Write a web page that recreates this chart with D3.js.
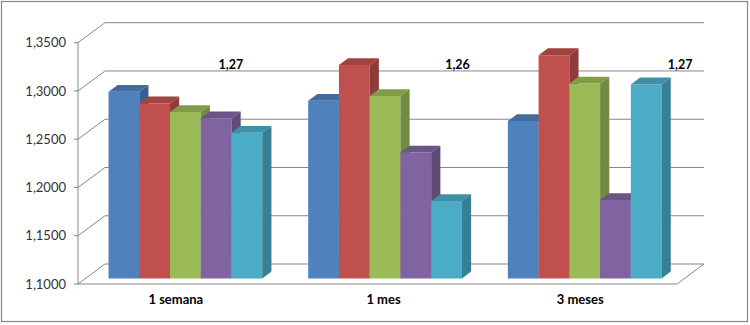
<!DOCTYPE html>
<html><head><meta charset="utf-8">
<script src="https://cdn.jsdelivr.net/npm/d3@7"></script>
<style>body{margin:0;background:#fff;}svg{display:block;font-family:Lato,"Open Sans",sans-serif;}</style>
</head><body>
<svg id="c" width="750" height="325"></svg>
<script>
const categories = ["1 semana", "1 mes", "3 meses"];
const seriesNames = ["S1", "S2", "S3", "S4", "S5"];
const seriesColors = ["#4F81BD", "#C0504D", "#9BBB59", "#8064A2", "#4BACC6"];
const values = [
  [1.2933, 1.2813, 1.2723, 1.2658, 1.2509],
  [1.2840, 1.3210, 1.2889, 1.2305, 1.1801],
  [1.2630, 1.3313, 1.3020, 1.1811, 1.3010]
];
const averageLabels = ["1,27", "1,26", "1,27"];
const yTicks = [1.10, 1.15, 1.20, 1.25, 1.30, 1.35];

const svg = d3.select("#c");
const DX = 27, DY = -20;      // oblique depth offset of the back wall
const F1 = 0.28, F2 = 0.62;   // bar depth (front / back fraction)
const left = 78, right = 677;

const y = d3.scaleLinear().domain([1.10, 1.35]).range([284, 42.7]);
const x0 = d3.scaleBand().domain(categories).range([left, right]).paddingInner(0.23).paddingOuter(0.115);
const x1 = d3.scaleBand().domain(seriesNames).range([0, x0.bandwidth()]);
const P = (px, v, f) => [px + f * DX, y(v) + f * DY];
const fmt = v => d3.format(".4f")(v).replace(".", ",");

// outer border
svg.append("rect").attr("x", 1.5).attr("y", 1.5).attr("width", 746).attr("height", 320)
  .attr("fill", "#fff").attr("stroke", "#878787").attr("stroke-width", 1.2);

const grid = "#868686";
// back wall gridlines + left wall diagonals
yTicks.forEach(t => {
  const a = P(left, t, 0), b = P(left, t, 1), c = P(right, t, 1);
  svg.append("path").attr("d", `M${a[0]},${a[1]}L${b[0]},${b[1]}L${c[0]},${c[1]}`)
    .attr("fill", "none").attr("stroke", grid).attr("stroke-width", 1);
});
// floor
{
  const a = P(left, 1.1, 0), b = P(right, 1.1, 0), c = P(right, 1.1, 1);
  svg.append("path").attr("d", `M${a[0]},${a[1]}L${b[0]},${b[1]}L${c[0]},${c[1]}`)
    .attr("fill", "none").attr("stroke", grid).attr("stroke-width", 1);
}
// y axis
svg.append("line").attr("x1", left).attr("x2", left).attr("y1", y(1.1)).attr("y2", y(1.35))
  .attr("stroke", grid);
yTicks.forEach(t => {
  svg.append("line").attr("x1", left - 4).attr("x2", left).attr("y1", y(t)).attr("y2", y(t)).attr("stroke", grid);
  svg.append("text").attr("x", 66).attr("y", y(t)).attr("dy", "0.35em")
    .attr("text-anchor", "end").attr("font-size", 13).attr("fill", "#333").text(fmt(t));
});

// bars
const poly = pts => "M" + pts.map(p => p.join(",")).join("L") + "Z";
categories.forEach((cat, ci) => {
  seriesNames.forEach((s, si) => {
    const v = values[ci][si];
    const xl = x0(cat) + x1(s), xr = xl + x1.bandwidth();
    const col = d3.color(seriesColors[si]);
    const g = svg.append("g");
    // front
    g.append("path").attr("d", poly([P(xl, 1.1, F1), P(xr, 1.1, F1), P(xr, v, F1), P(xl, v, F1)]))
      .attr("fill", col.formatHex());
    // top
    g.append("path").attr("d", poly([P(xl, v, F1), P(xr, v, F1), P(xr, v, F2), P(xl, v, F2)]))
      .attr("fill", col.darker(0.5).formatHex());
    // side
    g.append("path").attr("d", poly([P(xr, 1.1, F1), P(xr, 1.1, F2), P(xr, v, F2), P(xr, v, F1)]))
      .attr("fill", col.darker(0.85).formatHex());
  });
});

// average labels
const labelDx = [53, 80, 103];
categories.forEach((cat, ci) => {
  svg.append("text").attr("x", x0(cat) + x0.bandwidth() / 2 + labelDx[ci])
    .attr("y", y(1.30) + DY - 1.5).attr("text-anchor", "middle")
    .attr("font-size", 12.5).attr("font-weight", "bold").attr("fill", "#000")
    .text(averageLabels[ci]);
});

// category labels
const catDx = [-2, 6, 3];
categories.forEach((cat, ci) => {
  svg.append("text").attr("x", x0(cat) + x0.bandwidth() / 2 + catDx[ci]).attr("y", 304)
    .attr("text-anchor", "middle").attr("font-size", 13).attr("font-weight", "bold")
    .attr("fill", "#000").text(cat);
});
</script>
</body></html>
